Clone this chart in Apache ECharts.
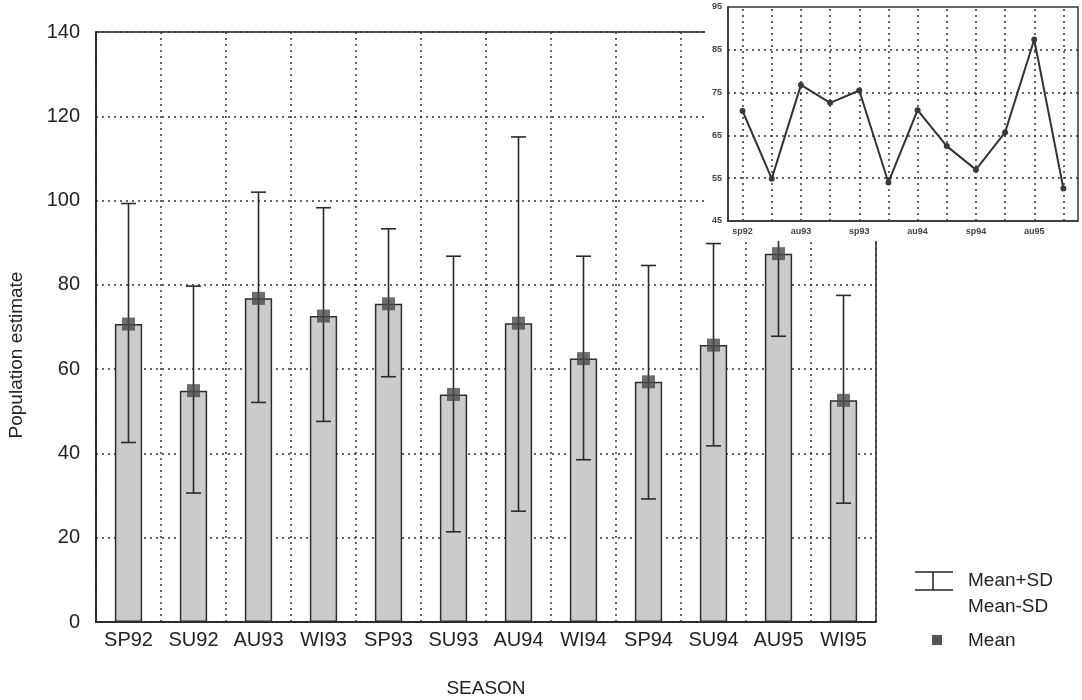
<!DOCTYPE html>
<html>
<head>
<meta charset="utf-8">
<title>Seasonal population estimates</title>
<script src="https://cdn.jsdelivr.net/npm/echarts@6/dist/echarts.min.js"></script>
<style>
  html, body { margin: 0; padding: 0; background: #fff; }
  #chart { width: 1082px; height: 700px; }
</style>
</head>
<body>
<div id="chart"></div>
<script>
// Seasons (main chart labels and inset labels)
const seasons = ['SP92', 'SU92', 'AU93', 'WI93', 'SP93', 'SU93', 'AU94', 'WI94', 'SP94', 'SU94', 'AU95', 'WI95'];
const seasonsShort = ['sp92', 'su92', 'au93', 'wi93', 'sp93', 'su93', 'au94', 'wi94', 'sp94', 'su94', 'au95', 'wi95'];

// Population estimate per season
const meanValues = [70.7, 54.9, 76.8, 72.6, 75.5, 54.0, 70.9, 62.5, 57.0, 65.7, 87.4, 52.6];
const meanPlusSD = [99.3, 79.7, 102.0, 98.3, 93.3, 86.8, 115.1, 86.8, 84.6, 89.8, 107.2, 77.5];
const meanMinusSD = [42.6, 30.6, 52.1, 47.6, 58.2, 21.4, 26.3, 38.5, 29.2, 41.8, 67.8, 28.2];

// Axis ticks
const mainTicks = { min: 0, max: 140, step: 20 };
const insetLabelTicks = [45, 55, 65, 75, 85, 95];
const insetGridValues = [55, 65, 75, 85];

const FONT = 'Liberation Sans, Arial, Helvetica, sans-serif';
const INK = '#222';
const dotted = [2, 4];

const chart = echarts.init(document.getElementById('chart'), null, { renderer: 'canvas' });

const errorData = seasons.map((s, i) => [i, meanMinusSD[i], meanPlusSD[i]]);

function renderErrorBar(params, api) {
  const idx = api.value(0);
  const lo = api.coord([idx, api.value(1)]);
  const hi = api.coord([idx, api.value(2)]);
  const half = 7.5;
  const style = { stroke: '#2a2a2a', lineWidth: 1.6 };
  return {
    type: 'group',
    children: [
      { type: 'line', shape: { x1: hi[0], y1: hi[1], x2: lo[0], y2: lo[1] }, style },
      { type: 'line', shape: { x1: hi[0] - half, y1: hi[1], x2: hi[0] + half, y2: hi[1] }, style },
      { type: 'line', shape: { x1: lo[0] - half, y1: lo[1], x2: lo[0] + half, y2: lo[1] }, style }
    ]
  };
}

const option = {
  backgroundColor: '#ffffff',
  animation: false,
  textStyle: { fontFamily: FONT },
  grid: [
    {
      left: 96, right: 206, top: 32, bottom: 78, outerBoundsMode: 'none', containLabel: false,
      show: true, borderColor: INK, borderWidth: 1.5, backgroundColor: 'transparent'
    },
    {
      left: 728, right: 4, top: 7, bottom: 479, outerBoundsMode: 'none', containLabel: false,
      show: true, borderColor: '#333', borderWidth: 1.5, backgroundColor: '#ffffff', z: 10
    }
  ],
  xAxis: [
    {
      type: 'category', gridIndex: 0, data: seasons, boundaryGap: true,
      name: 'SEASON', nameLocation: 'middle', nameGap: 57,
      nameTextStyle: { fontSize: 19, color: INK, fontFamily: FONT },
      axisLine: { show: true, lineStyle: { color: INK, width: 1.5 } },
      axisTick: { show: false },
      axisLabel: { fontSize: 20, color: INK, margin: 8, fontFamily: FONT, interval: 0 },
      splitLine: { show: true, lineStyle: { color: '#333', width: 1.5, type: dotted } }
    },
    {
      type: 'category', gridIndex: 1, data: seasonsShort, boundaryGap: true, z: 11,
      axisLine: { show: true, lineStyle: { color: '#333', width: 1.5 } },
      axisTick: { show: false },
      axisLabel: { fontSize: 9, fontWeight: 'bold', color: '#444', margin: 6, interval: 1, fontFamily: FONT },
      splitLine: { show: false }
    }
  ],
  yAxis: [
    {
      type: 'value', gridIndex: 0, min: mainTicks.min, max: mainTicks.max, interval: mainTicks.step,
      axisLine: { show: true, lineStyle: { color: INK, width: 1.5 } },
      axisTick: { show: false },
      axisLabel: { fontSize: 20, color: INK, margin: 16, fontFamily: FONT },
      splitLine: { show: true, lineStyle: { color: '#333', width: 1.5, type: dotted } }
    },
    {
      type: 'value', gridIndex: 1, min: 45, max: 95, interval: 5, z: 11,
      axisLine: { show: true, lineStyle: { color: '#333', width: 1.5 } },
      axisTick: { show: false },
      axisLabel: {
        fontSize: 9, fontWeight: 'bold', color: '#444', margin: 6, fontFamily: FONT,
        formatter: v => (insetLabelTicks.indexOf(v) >= 0 ? String(v) : '')
      },
      splitLine: { show: false }
    }
  ],
  series: [
    {
      name: 'Mean bar', type: 'bar', xAxisIndex: 0, yAxisIndex: 0,
      data: meanValues, barWidth: '42%', z: 2,
      itemStyle: { color: '#cbcbcb', borderColor: '#2e2e2e', borderWidth: 1.5 }
    },
    {
      name: 'Mean±SD', type: 'custom', xAxisIndex: 0, yAxisIndex: 0,
      data: errorData, renderItem: renderErrorBar, z: 3,
      encode: { x: 0, y: [1, 2] }
    },
    {
      name: 'Mean', type: 'scatter', xAxisIndex: 0, yAxisIndex: 0,
      data: meanValues, symbol: 'rect', symbolSize: 13, z: 4,
      itemStyle: { color: '#4a4a4a' }
    },
    {
      name: 'Inset mean', type: 'line', xAxisIndex: 1, yAxisIndex: 1,
      data: meanValues, z: 12,
      symbol: 'circle', symbolSize: 6, showSymbol: true,
      itemStyle: { color: '#3a3a3a' },
      lineStyle: { color: '#333', width: 2 },
      markLine: {
        z: 11,
        silent: true, symbol: ['none', 'none'], label: { show: false },
        lineStyle: { color: '#333', width: 1.5, type: dotted },
        emphasis: { disabled: true },
        data: seasonsShort.map(s => ({ xAxis: s })).concat(insetGridValues.map(v => ({ yAxis: v })))
      }
    }
  ],
  graphic: [
    // white panel behind the inset chart
    { type: 'rect', z: 9, shape: { x: 705, y: 0, width: 377, height: 241 }, style: { fill: '#ffffff' } },
    // y axis title
    {
      type: 'text', x: 17, y: 355, rotation: Math.PI / 2,
      style: { text: 'Population estimate', font: '19px ' + FONT, fill: INK, textAlign: 'center', textVerticalAlign: 'middle' }
    },
    // legend
    { type: 'line', shape: { x1: 915, y1: 572, x2: 953, y2: 572 }, style: { stroke: INK, lineWidth: 1.5 } },
    { type: 'line', shape: { x1: 915, y1: 590, x2: 953, y2: 590 }, style: { stroke: INK, lineWidth: 1.5 } },
    { type: 'line', shape: { x1: 933, y1: 572, x2: 933, y2: 590 }, style: { stroke: INK, lineWidth: 1.5 } },
    { type: 'text', x: 968, y: 581, style: { text: 'Mean+SD', font: '19px ' + FONT, fill: INK, textVerticalAlign: 'middle' } },
    { type: 'text', x: 968, y: 607, style: { text: 'Mean-SD', font: '19px ' + FONT, fill: INK, textVerticalAlign: 'middle' } },
    { type: 'rect', shape: { x: 932, y: 635, width: 10, height: 10 }, style: { fill: '#555' } },
    { type: 'text', x: 968, y: 641, style: { text: 'Mean', font: '19px ' + FONT, fill: INK, textVerticalAlign: 'middle' } }
  ]
};

chart.setOption(option);
</script>
</body>
</html>
